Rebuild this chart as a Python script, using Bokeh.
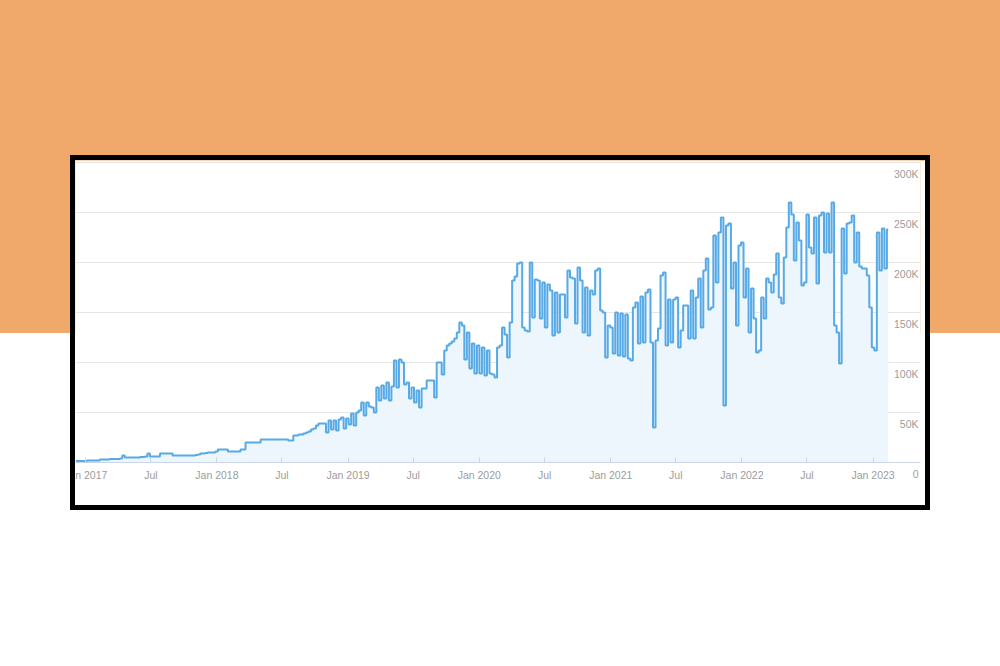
import pandas as pd
from bokeh.plotting import figure
from bokeh.models import (Range1d, LinearAxis, FixedTicker, ColumnDataSource, Grid,
                          GlobalInlineStyleSheet, CustomJSTickFormatter)
from bokeh.embed import file_html
from bokeh.resources import INLINE

# ---------------- data (weekly readings, thousands) ----------------
start_date = "2016-12-04"
weekly_values_k = [
    1.5, 1.5, 1.5, 1.5, 1.5, 2, 2, 2, 2, 2,
    3, 3, 3, 3, 3.5, 3.5, 3.5, 3.5, 4, 7,
    5, 5, 5, 5, 5, 5, 5.5, 5.5, 6, 9,
    6, 6, 6, 6, 9, 9, 9, 9, 9, 7,
    7, 7, 7, 7, 7, 7, 7, 7, 7.5, 8,
    9, 9, 9.5, 10, 10, 10, 11, 13, 13, 13,
    13, 11, 11, 11, 11, 11, 13, 13, 20, 20,
    20, 20, 20, 20, 23, 23, 23, 23, 23, 23,
    23, 23, 23, 23, 23, 22, 22, 27, 27, 28,
    28, 29, 30, 31, 33, 34, 37, 39, 39, 39,
    30, 42, 33, 42, 32, 43, 45, 34, 44, 38,
    49, 37, 50, 52, 60, 47, 60, 56, 55, 50,
    75, 62, 77, 64, 80, 62, 76, 102, 75, 103,
    100, 78, 80, 64, 75, 60, 72, 55, 74, 74,
    82, 82, 82, 65, 100, 100, 88, 112, 117, 119,
    121, 124, 130, 140, 137, 103, 130, 94, 119, 89,
    117, 89, 115, 87, 112, 89, 88, 85, 115, 117,
    135, 128, 105, 140, 182, 186, 199, 200, 135, 132,
    131, 200, 145, 183, 182, 144, 180, 135, 178, 172,
    127, 170, 130, 168, 168, 145, 192, 185, 184, 139,
    195, 182, 130, 175, 127, 172, 168, 192, 194, 152,
    150, 105, 137, 135, 109, 150, 107, 149, 106, 148,
    104, 102, 155, 160, 119, 166, 120, 170, 173, 120,
    35, 122, 134, 187, 190, 117, 163, 120, 163, 165,
    115, 132, 157, 157, 124, 172, 124, 165, 184, 135,
    192, 204, 153, 155, 227, 180, 230, 245, 57, 237,
    239, 174, 200, 137, 217, 220, 165, 194, 130, 174,
    144, 110, 112, 165, 144, 184, 180, 170, 188, 209,
    165, 159, 205, 235, 260, 248, 202, 240, 222, 177,
    180, 248, 215, 209, 245, 179, 247, 250, 210, 249,
    210, 260, 137, 130, 99, 234, 189, 239, 240, 247,
    200, 230, 196, 194, 194, 187, 155, 115, 112, 230,
    192, 234, 194, 233,
]

x_tick_dates = ["2017-01-01", "2017-07-01", "2018-01-01", "2018-07-01", "2019-01-01",
                "2019-07-01", "2020-01-01", "2020-07-01", "2021-01-01", "2021-07-01",
                "2022-01-01", "2022-07-01", "2023-01-01"]
x_tick_labels = ["Jan 2017", "Jul", "Jan 2018", "Jul", "Jan 2019", "Jul", "Jan 2020",
                 "Jul", "Jan 2021", "Jul", "Jan 2022", "Jul", "Jan 2023"]
y_ticks = [0, 50000, 100000, 150000, 200000, 250000, 300000]
y_tick_labels = ["0", "50K", "100K", "150K", "200K", "250K", "300K"]

# ---------------- build ----------------
dates = pd.date_range(start_date, periods=len(weekly_values_k), freq="7D")
values = [v * 1000 for v in weekly_values_k]
src = ColumnDataSource(data=dict(date=dates, value=values))

def to_ms(s):
    return pd.Timestamp(s).value / 1e6

x_start = to_ms("2016-12-03 08:00")
x_end = to_ms("2023-05-13")
tick_ms = [to_ms(d) for d in x_tick_dates]

LABEL_SHIFT = 11000  # y labels sit just below their grid lines

FONT = "Liberation Sans"
LABEL_COLOR = "#9c9c9c"
LOOKUP = "const i = tvals.indexOf(tick); return i >= 0 ? tlabs[i] : '';"

css = GlobalInlineStyleSheet(css="""
html, body { margin: 0; padding: 0; height: 100%; }
body { background: linear-gradient(to bottom, #F0A86B 0px, #F0A86B 333px, #FFFFFF 333px, #FFFFFF 100%) no-repeat;
       background-color: #FFFFFF; overflow: hidden; }
body::before { content: ""; position: absolute; left: 70px; top: 155px; width: 850px; height: 345px;
       border: 5px solid #000000; box-sizing: content-box; z-index: 10; pointer-events: none; }
""")

p = figure(width=880, height=345,
           x_axis_type=None, y_axis_type=None,
           x_range=Range1d(x_start, x_end),
           y_range=Range1d(-30000, 302000),
           output_backend="svg", toolbar_location=None,
           min_border_left=30, min_border_right=5, min_border_top=0, min_border_bottom=13,
           border_fill_color="white", background_fill_color="white",
           outline_line_color=None)
p.stylesheets = [css]
p.styles = {"position": "absolute", "left": "45px", "top": "160px",
            "clip-path": "inset(0px 0px 0px 30px)"}

p.extra_y_ranges = {"ylab": Range1d(-30000 + LABEL_SHIFT, 302000 + LABEL_SHIFT)}

ygrid = Grid(dimension=1, ticker=FixedTicker(ticks=y_ticks),
             grid_line_color="#e6e6e6", grid_line_width=1)
p.add_layout(ygrid, "center")

p.varea_step(x="date", y1=0, y2="value", source=src, step_mode="center",
             fill_color="#EEF6FD", fill_alpha=1)
p.step(x="date", y="value", source=src, mode="center",
       line_color="#57AAE5", line_width=2)

xaxis = LinearAxis(
    ticker=FixedTicker(ticks=tick_ms),
    formatter=CustomJSTickFormatter(args=dict(tvals=tick_ms, tlabs=x_tick_labels), code=LOOKUP),
    fixed_location=0,
    axis_line_color="#ccd6eb", axis_line_width=1,
    major_tick_line_color="#ccd6eb", major_tick_in=5, major_tick_out=0,
    minor_tick_line_color=None,
    major_label_standoff=6,
    major_label_text_font=FONT, major_label_text_font_size="10.5px",
    major_label_text_color=LABEL_COLOR,
)
p.add_layout(xaxis, "below")

yaxis = LinearAxis(
    y_range_name="ylab",
    ticker=FixedTicker(ticks=y_ticks),
    formatter=CustomJSTickFormatter(args=dict(tvals=y_ticks, tlabs=y_tick_labels), code=LOOKUP),
    fixed_location=x_end,
    axis_line_color=None, major_tick_line_color=None, minor_tick_line_color=None,
    major_tick_in=0, major_tick_out=0,
    major_label_standoff=2,
    major_label_text_font=FONT, major_label_text_font_size="10.5px",
    major_label_text_color=LABEL_COLOR,
)
p.add_layout(yaxis, "left")

open("out.html", "w").write(file_html(p, INLINE))
